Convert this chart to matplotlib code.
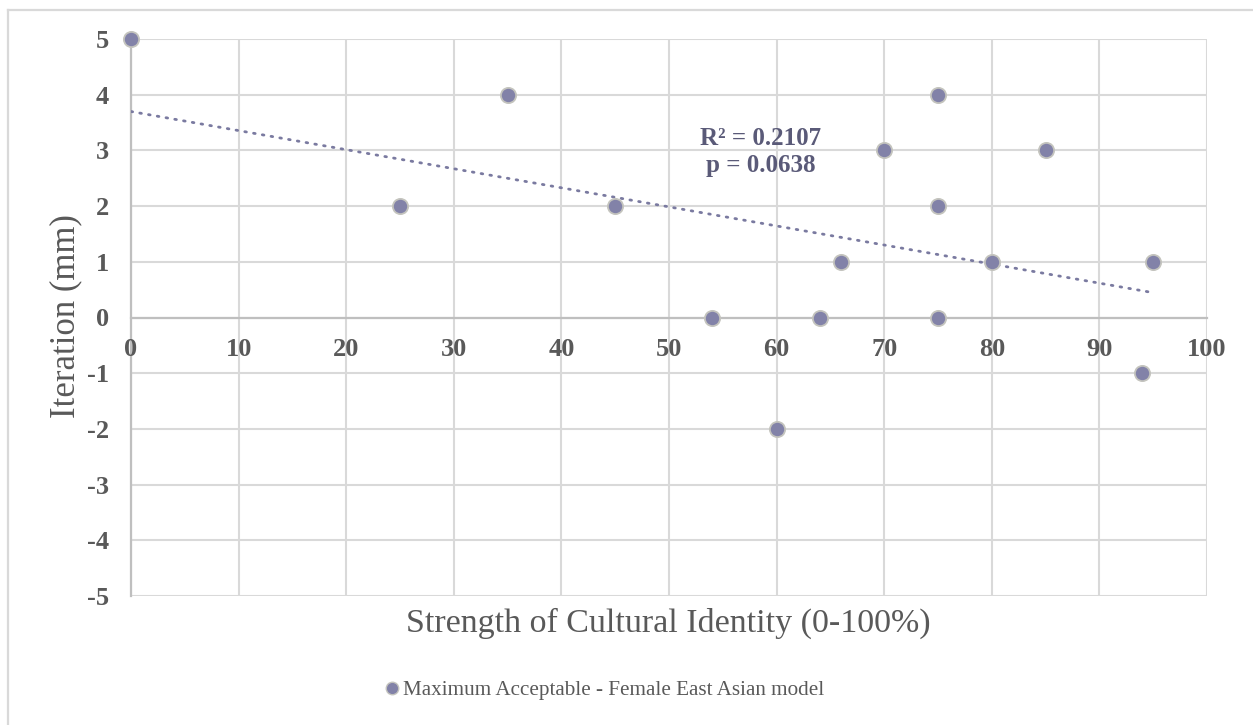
import numpy as np
import matplotlib
matplotlib.use("Agg")
import matplotlib.pyplot as plt
from matplotlib.lines import Line2D

# Survey responses: cultural identity strength vs. accepted iteration
identity_strength = [0, 25, 35, 45, 54, 60, 64, 66, 70, 75, 75, 75, 80, 85, 94, 95]
iteration_mm = [5, 2, 4, 2, 0, -2, 0, 1, 3, 4, 2, 0, 1, 3, -1, 1]
x_ticks = list(range(0, 101, 10))
y_ticks = list(range(-5, 6))
series_name = "Maximum Acceptable - Female East Asian model"
r_squared = "0.2107"
p_value = "0.0638"

plt.rcParams["axes.unicode_minus"] = False

FONT = "Liberation Serif"
TEXT_GRAY = "#595959"
GRID = "#D9D9D9"
AXIS = "#BFBFBF"
MARKER = "#8282A8"
MARKER_EDGE = "#C4C4BE"
TREND = "#7A7AA0"

W, H = 1253, 725
fig = plt.figure(figsize=(W / 100, H / 100), dpi=100)
fig.patch.set_facecolor("white")

left, right, top, bottom = 131, 1207, 39, 596
ax = fig.add_axes([left / W, 1 - bottom / H, (right - left) / W, (bottom - top) / H])
ax.set_xlim(0, 100)
ax.set_ylim(-5, 5)

# light grid on every tick
for xv in x_ticks:
    ax.axvline(xv, color=GRID, lw=1.5, zorder=0)
for yv in y_ticks:
    ax.axhline(yv, color=GRID, lw=1.5, zorder=0)

for s in ("top", "right"):
    ax.spines[s].set_visible(False)
ax.spines["bottom"].set_position(("data", 0))
ax.spines["left"].set_position(("data", 0))
for s in ("bottom", "left"):
    ax.spines[s].set_color(AXIS)
    ax.spines[s].set_linewidth(1.6)
    ax.spines[s].set_zorder(1)

ax.set_xticks(x_ticks)
ax.set_yticks(y_ticks)
ax.tick_params(axis="both", length=0, colors=TEXT_GRAY)
ax.tick_params(axis="x", pad=15)
ax.tick_params(axis="y", pad=16)
for lab in ax.get_xticklabels() + ax.get_yticklabels():
    lab.set_fontfamily(FONT)
    lab.set_fontweight("bold")
    lab.set_fontsize(19)

# linear trendline over the data range
xs = np.array(identity_strength, dtype=float)
ys = np.array(iteration_mm, dtype=float)
slope, intercept = np.polyfit(xs, ys, 1)
xl = np.array([xs.min(), xs.max()])
ax.plot(xl, slope * xl + intercept, color=TREND, lw=2.0,
        linestyle=(0, (0.6, 2.6)), dash_capstyle="round", zorder=2)

ax.scatter(identity_strength, iteration_mm, s=120, color=MARKER,
           edgecolors=MARKER_EDGE, linewidths=1.3, zorder=3, clip_on=False)

ax.text(58.5, 2.97, f"R² = {r_squared}\np = {p_value}", ha="center", va="center",
        fontfamily=FONT, fontweight="bold", fontsize=18, color="#5A5A78",
        linespacing=1.25, zorder=4)

fig.text(668 / W, 1 - 623 / H, "Strength of Cultural Identity (0-100%)",
         ha="center", va="center", fontfamily=FONT, fontsize=24.5, color=TEXT_GRAY)
fig.text(66 / W, 1 - 316 / H, "Iteration (mm)", rotation=90,
         ha="center", va="center", fontfamily=FONT, fontsize=25, color=TEXT_GRAY)

handle = Line2D([], [], linestyle="none", marker="o", markersize=9,
                markerfacecolor=MARKER, markeredgecolor=MARKER_EDGE, markeredgewidth=1)
leg = fig.legend([handle], [series_name], loc="center",
                 bbox_to_anchor=(603 / W, 1 - 690 / H), frameon=False,
                 handletextpad=0.0, handlelength=1.0,
                 prop={"family": FONT, "size": 15.2})
for t in leg.get_texts():
    t.set_color(TEXT_GRAY)

# chart-area border (top and left edges)
fig.add_artist(Line2D([8 / W, 1], [1 - 10 / H, 1 - 10 / H], transform=fig.transFigure,
                      color=GRID, lw=1.6))
fig.add_artist(Line2D([8 / W, 8 / W], [1 - 10 / H, 0], transform=fig.transFigure,
                      color=GRID, lw=1.6))

fig.savefig("out.png", dpi=100, facecolor="white")
